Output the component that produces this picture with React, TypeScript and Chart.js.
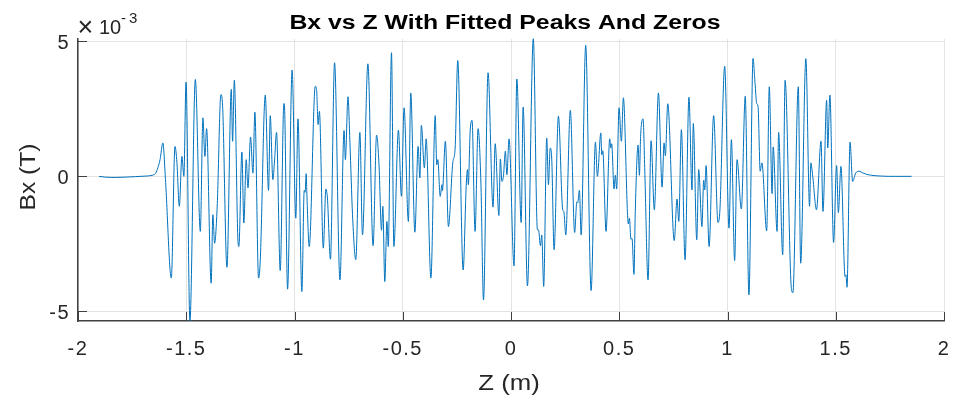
import React, { useEffect, useRef } from 'react';
import { Chart, registerables } from 'chart.js';

Chart.register(...registerables);

// Z position along the device (m)
const zPos = [
  -1.903, -1.874, -1.828, -1.782, -1.735, -1.689, -1.657, -1.643, -1.634, -1.621,
  -1.608, -1.596, -1.569, -1.552, -1.543, -1.532, -1.520, -1.511, -1.501, -1.483,
  -1.458, -1.435, -1.423, -1.414, -1.406, -1.385, -1.377, -1.369, -1.357, -1.340,
  -1.332, -1.312, -1.292, -1.286, -1.278, -1.261, -1.257, -1.243, -1.234, -1.223,
  -1.215, -1.203, -1.192, -1.183, -1.166, -1.158, -1.135, -1.120, -1.112, -1.100,
  -1.092, -1.083, -1.066, -1.049, -1.046, -1.032, -1.011, -0.994, -0.984, -0.966,
  -0.955, -0.951, -0.946, -0.943, -0.932, -0.904, -0.898, -0.891, -0.885, -0.867,
  -0.855, -0.848, -0.834, -0.815, -0.790, -0.771, -0.765, -0.753, -0.744, -0.732,
  -0.717, -0.698, -0.686, -0.661, -0.637, -0.621, -0.610, -0.598, -0.592, -0.583,
  -0.573, -0.567, -0.552, -0.541, -0.520, -0.506, -0.494, -0.474, -0.463, -0.444,
  -0.429, -0.421, -0.414, -0.400, -0.392, -0.370, -0.350, -0.343, -0.338, -0.327,
  -0.319, -0.317, -0.303, -0.289, -0.269, -0.258, -0.246, -0.221, -0.207, -0.201,
  -0.197, -0.189, -0.180, -0.166, -0.152, -0.139, -0.127, -0.106, -0.083, -0.073,
  -0.056, -0.049, -0.042, -0.035, -0.026, -0.019, -0.009, 0.014, 0.027, 0.047,
  0.056, 0.076, 0.103, 0.122, 0.127, 0.136, 0.142, 0.151, 0.165, 0.173,
  0.181, 0.188, 0.199, 0.219, 0.239, 0.244, 0.253, 0.274, 0.294, 0.304,
  0.308, 0.316, 0.324, 0.345, 0.370, 0.390, 0.399, 0.415, 0.419, 0.424,
  0.439, 0.456, 0.461, 0.465, 0.476, 0.482, 0.488, 0.499, 0.510, 0.519,
  0.542, 0.547, 0.554, 0.559, 0.568, 0.574, 0.587, 0.593, 0.599, 0.610,
  0.618, 0.633, 0.647, 0.662, 0.681, 0.698, 0.707, 0.713, 0.724, 0.754,
  0.767, 0.775, 0.787, 0.804, 0.822, 0.836, 0.842, 0.858, 0.867, 0.882,
  0.890, 0.895, 0.901, 0.915, 0.936, 0.956, 0.965, 0.987, 1.007, 1.018,
  1.033, 1.044, 1.064, 1.082, 1.099, 1.118, 1.127, 1.135, 1.141, 1.151,
  1.159, 1.181, 1.193, 1.206, 1.211, 1.229, 1.236, 1.255, 1.266, 1.295,
  1.302, 1.327, 1.338, 1.362, 1.379, 1.385, 1.393, 1.411, 1.432, 1.441,
  1.458, 1.463, 1.473, 1.490, 1.504, 1.512, 1.524, 1.543, 1.547, 1.552,
  1.566, 1.578, 1.592, 1.607, 1.627, 1.650, 1.712, 1.773, 1.850,
];

// Bx field in units of 1e-3 T
const bxE3 = [
  -0.00, -0.03, -0.04, -0.03, -0.01, 0.01, 0.04, 0.10, 0.25, 0.62,
  1.24, -0.12, -3.77, 1.11, 0.50, -1.11, 0.74, 0.00, 3.49, -5.36,
  3.59, -2.04, 2.17, 0.74, 1.77, -3.96, -1.42, -2.48, -1.10, 3.03,
  2.60, -3.37, 3.22, 1.30, 3.56, -2.41, -2.60, 0.90, -1.73, 0.62,
  -0.43, 1.46, 0.12, 2.38, -3.77, -3.09, 3.01, -0.52, 2.25, -0.12,
  0.60, 1.63, -3.49, 2.70, 2.57, -4.18, 3.94, -1.55, 2.13, -4.27,
  -0.52, -0.59, 0.10, -0.62, -2.60, 3.34, 3.22, 1.92, 2.41, -2.66,
  -0.47, -0.80, -3.07, 4.21, -3.84, 1.70, 0.62, 2.95, 1.26, -1.42,
  -3.09, 1.63, -2.17, 4.17, -2.57, 1.53, 0.50, -2.00, -1.11, -3.90,
  -1.67, -2.60, 4.58, -2.60, 1.71, -0.74, 2.54, -1.67, 3.09, -2.07,
  1.11, -0.06, 1.89, 0.31, 1.39, -3.77, 2.25, 0.43, 0.62, -0.74,
  -0.31, -0.53, 1.30, -1.86, 0.50, 1.05, 4.29, -3.47, -0.37, 0.25,
  -0.31, 1.61, 2.08, -2.04, 1.77, -0.25, -4.58, 3.84, -1.14, 1.21,
  -1.45, 0.64, -0.19, 0.00, 0.93, 0.06, 1.39, -3.32, 3.61, -1.71,
  2.57, -4.06, 5.10, -1.98, -1.98, -2.57, -2.17, -4.08, 1.42, -0.31,
  1.05, 0.68, -2.72, 2.23, -1.24, -1.30, -2.17, 2.45, -2.08, -0.95,
  -0.98, -0.52, -2.17, 4.85, -4.23, 1.27, 0.00, 1.61, 0.80, 0.95,
  -2.04, 1.39, 1.05, 1.21, -0.47, 0.04, -0.47, 2.54, 1.30, 2.91,
  -1.76, -1.55, -2.33, -2.30, -3.63, -1.30, 1.16, 0.04, 1.55, 2.13,
  0.19, -3.84, 1.32, -1.24, 3.09, -0.40, 1.24, 0.77, 2.69, -2.38,
  -0.84, -1.67, 1.73, -3.09, 2.93, -0.50, 1.96, -2.35, 0.25, -1.86,
  -0.15, -0.50, 0.40, -2.60, 2.25, -1.71, -1.24, 4.08, -1.92, 1.36,
  -3.12, 0.62, -1.21, 2.97, -4.39, 4.37, 3.47, 2.70, 2.60, 0.19,
  0.50, -2.02, 3.32, -0.64, 1.09, -2.04, 1.63, -2.91, 3.56, -4.15,
  -4.31, 3.32, -3.22, 4.36, -1.11, 0.50, 0.06, -1.24, 1.30, -1.30,
  2.82, 1.05, 3.01, -2.45, 0.40, -1.34, 0.37, -3.71, -3.65, -4.11,
  1.27, -0.19, 0.12, 0.19, 0.12, 0.06, 0.01, 0.00, 0.00,
];

const yTickValues = [-5, 0, 5];
const xMin = -2;
const xMax = 2;
const xStep = 0.5;
const yMin = -5.36;
const yMax = 5.09;

const chartTitle = 'Bx vs Z With Fitted Peaks And Zeros';
const xLabel = 'Z (m)';
const yLabel = 'Bx (T)';
const expBase = '10';
const expPower = '-3';

const FONT = '"Liberation Sans", Arial, Helvetica, sans-serif';
const TEXT = '#262626';
const AXIS = '#404040';
const GRID = '#e3e3e3';
const LINE = '#0072BD';

// draws text centred at (cx, baseline) with a horizontal stretch factor
function stretchedText(ctx: any, text: string, cx: number, y: number, sx: number) {
  const w = ctx.measureText(text).width;
  ctx.save();
  ctx.translate(cx, y);
  ctx.scale(sx, 1);
  ctx.fillText(text, -w / 2, 0);
  ctx.restore();
}

export default function App() {
  const ref = useRef<HTMLCanvasElement | null>(null);

  useEffect(() => {
    if (!ref.current) return;
    const n = Math.min(zPos.length, bxE3.length);
    const points = [];
    for (let i = 0; i < n; i++) points.push({ x: zPos[i], y: bxE3[i] });

    const decor = {
      id: 'matlabDecor',
      beforeDraw(chart: any) {
        chart.ctx.letterSpacing = '1.5px';
      },
      afterDraw(chart: any) {
        const ctx = chart.ctx;
        const a = chart.chartArea;
        const xs = chart.scales.x;
        const ys = chart.scales.y;
        ctx.save();
        ctx.letterSpacing = '0px';
        // inward tick marks
        ctx.strokeStyle = AXIS;
        ctx.lineWidth = 1;
        xs.ticks.forEach((t: any) => {
          const px = Math.round(xs.getPixelForValue(t.value)) + 0.5;
          ctx.beginPath();
          ctx.moveTo(px, a.bottom);
          ctx.lineTo(px, a.bottom - 9);
          ctx.stroke();
        });
        ys.ticks.forEach((t: any) => {
          const py = Math.round(ys.getPixelForValue(t.value)) + 0.5;
          ctx.beginPath();
          ctx.moveTo(a.left, py);
          ctx.lineTo(a.left + 9, py);
          ctx.stroke();
        });

        // title
        ctx.fillStyle = '#000';
        ctx.textBaseline = 'alphabetic';
        ctx.textAlign = 'left';
        ctx.font = `bold 20px ${FONT}`;
        stretchedText(ctx, chartTitle, 505, 29, 1.24);

        // x label
        ctx.fillStyle = TEXT;
        ctx.font = `22px ${FONT}`;
        stretchedText(ctx, xLabel, 509, 390, 1.17);

        // y label
        ctx.save();
        ctx.translate(35, 177);
        ctx.rotate(-Math.PI / 2);
        stretchedText(ctx, yLabel, 0, 0, 1.12);
        ctx.restore();

        // exponent
        ctx.font = `27px ${FONT}`;
        ctx.fillText('\u00d7', a.left - 0.5, 36);
        ctx.font = `20px ${FONT}`;
        ctx.fillText(expBase, a.left + 21, 33.5);
        ctx.font = `15px ${FONT}`;
        ctx.letterSpacing = '3px';
        ctx.fillText(expPower, a.left + 43, 23);
        ctx.restore();
        ctx.letterSpacing = '0px';
      },
    };

    const chart = new Chart(ref.current, {
      type: 'line',
      data: {
        datasets: [
          {
            data: points,
            borderColor: LINE,
            borderWidth: 1,
            pointRadius: 0,
            fill: false,
            cubicInterpolationMode: 'monotone',
            clip: 6,
          } as any,
        ],
      },
      options: {
        animation: false,
        responsive: false,
        layout: { padding: { top: 39, right: 14, left: 0, bottom: 0 } },
        plugins: {
          legend: { display: false },
          title: { display: false },
          tooltip: { enabled: false },
        },
        scales: {
          x: {
            type: 'linear',
            min: xMin,
            max: xMax,
            ticks: {
              stepSize: xStep,
              autoSkip: false,
              maxRotation: 0,
              padding: 16,
              color: TEXT,
              font: { family: FONT, size: 20 },
              callback: (v: any) => String(v),
            },
            grid: { color: GRID, drawTicks: false, lineWidth: 1 },
            border: { display: true, color: AXIS, width: 1.5 },
            afterFit: (s: any) => {
              s.height = 80;
              s.paddingLeft = 0;
              s.paddingRight = 0;
            },
          },
          y: {
            type: 'linear',
            min: yMin,
            max: yMax,
            afterBuildTicks: (s: any) => {
              s.ticks = yTickValues.map((v) => ({ value: v }));
            },
            ticks: {
              padding: 8,
              labelOffset: 2.5,
              color: TEXT,
              font: { family: FONT, size: 20 },
              callback: (v: any) => String(v),
            },
            grid: { color: GRID, drawTicks: false, lineWidth: 1 },
            border: { display: true, color: AXIS, width: 1.5 },
            afterFit: (s: any) => {
              s.width = 78;
              s.paddingTop = 0;
              s.paddingBottom = 0;
            },
          },
        },
      } as any,
      plugins: [decor],
    });

    return () => chart.destroy();
  }, []);

  return (
    <div style={{ position: 'absolute', left: 0, top: 0, width: 958, height: 401, background: '#fff' }}>
      <canvas ref={ref} width={958} height={401} style={{ display: 'block' }} />
    </div>
  );
}
